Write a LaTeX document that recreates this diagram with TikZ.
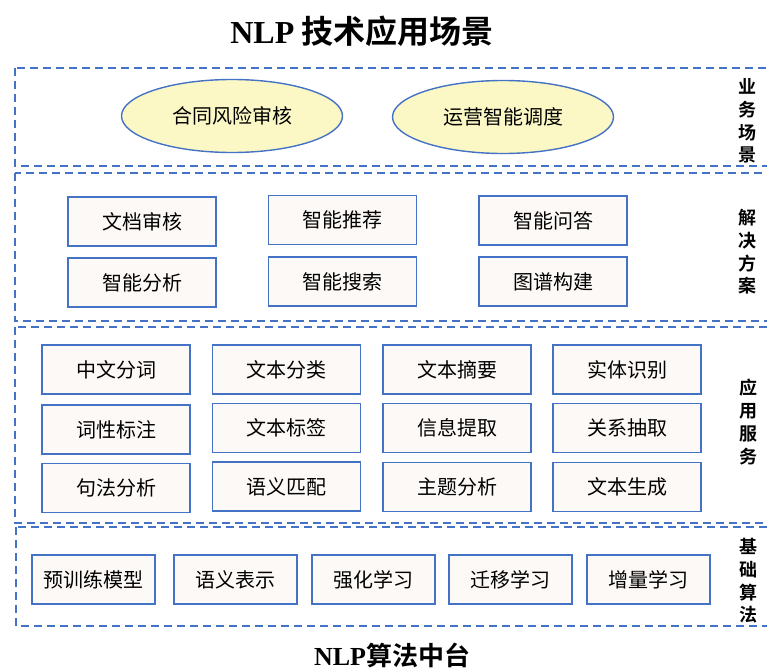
\documentclass[tikz,border=0pt]{standalone}
\usepackage{fontspec}
\setmainfont{Noto Sans CJK SC}[BoldFont={Noto Sans CJK SC Bold}]
\newfontfamily\latinfont{Liberation Serif}
\usepackage{tikz}
\usetikzlibrary{shapes.geometric}

\definecolor{layerblue}{HTML}{4472C4}
\definecolor{boxfill}{HTML}{FDF9F6}
\definecolor{scenefill}{HTML}{FBF8C6}

\tikzset{
  layer/.style={draw=layerblue, line width=2pt, dash pattern=on 8pt off 5pt},
  scene/.style={ellipse, draw=layerblue, line width=1.4pt, fill=scenefill, minimum width=221pt, minimum height=73pt, inner sep=0pt, font=\fontsize{20}{24}\selectfont},
  func/.style={draw=layerblue, line width=1.5pt, fill=boxfill, minimum width=148pt, minimum height=49pt, inner sep=0pt, font=\fontsize{20}{24}\selectfont},
  algo/.style={func, minimum width=123pt},
  side/.style={align=center, inner sep=0pt, font=\bfseries\fontsize{18}{22.7}\selectfont},
  heading/.style={inner sep=0pt, font=\bfseries}
}

\begin{document}
\begin{tikzpicture}[x=1pt, y=-1pt]
\clip (0,0) rectangle (767,671);

\node[heading, font=\bfseries\fontsize{32}{36}\selectfont] (title) at (362,31) {{\latinfont NLP} 技术应用场景};

% layers
\draw[layer] (15,68) rectangle (780,166);
\draw[layer] (15,173) rectangle (780,321);
\draw[layer] (15,327) rectangle (780,523);
\draw[layer] (16,527) rectangle (780,626);

\node[side] (scenelbl) at (747,121) {业\\务\\场\\景};
\node[side] (planlbl) at (747,252) {解\\决\\方\\案};
\node[side] (servlbl) at (748,422) {应\\用\\服\\务};
\node[side] (algolbl) at (748,581) {基\\础\\算\\法};

% business scenes
\node[scene] (contract) at (232,116) {合同风险审核};
\node[scene] (dispatch) at (503,117) {运营智能调度};

% solutions
\node[func] (docaudit) at (142,221.5) {文档审核};
\node[func] (analysis) at (142,282.5) {智能分析};
\node[func] (recommend) at (342.5,220) {智能推荐};
\node[func] (search) at (342.5,281.5) {智能搜索};
\node[func] (qa) at (553,220.5) {智能问答};
\node[func] (graph) at (553,281.5) {图谱构建};

% application services
\node[func] (segment) at (116,369.5) {中文分词};
\node[func] (postag) at (116,429.5) {词性标注};
\node[func] (syntax) at (116,488) {句法分析};
\node[func] (classify) at (286.5,369.5) {文本分类};
\node[func] (tagging) at (286.5,428) {文本标签};
\node[func] (match) at (286.5,486.5) {语义匹配};
\node[func] (summary) at (457,369.5) {文本摘要};
\node[func] (extract) at (457,428) {信息提取};
\node[func] (topic) at (457,487) {主题分析};
\node[func] (entity) at (627,369.5) {实体识别};
\node[func] (relation) at (627,428) {关系抽取};
\node[func] (generate) at (627,487) {文本生成};

% base algorithms
\node[algo] (pretrain) at (93.5,579.5) {预训练模型};
\node[algo] (semrep) at (235.5,579.5) {语义表示};
\node[algo] (rl) at (373.5,579.5) {强化学习};
\node[algo] (transfer) at (510.5,579.5) {迁移学习};
\node[algo] (increment) at (648.5,579.5) {增量学习};

\node[heading, font=\bfseries\fontsize{26}{30}\selectfont] (platform) at (392,655) {{\latinfont NLP}算法中台};
\end{tikzpicture}
\end{document}
